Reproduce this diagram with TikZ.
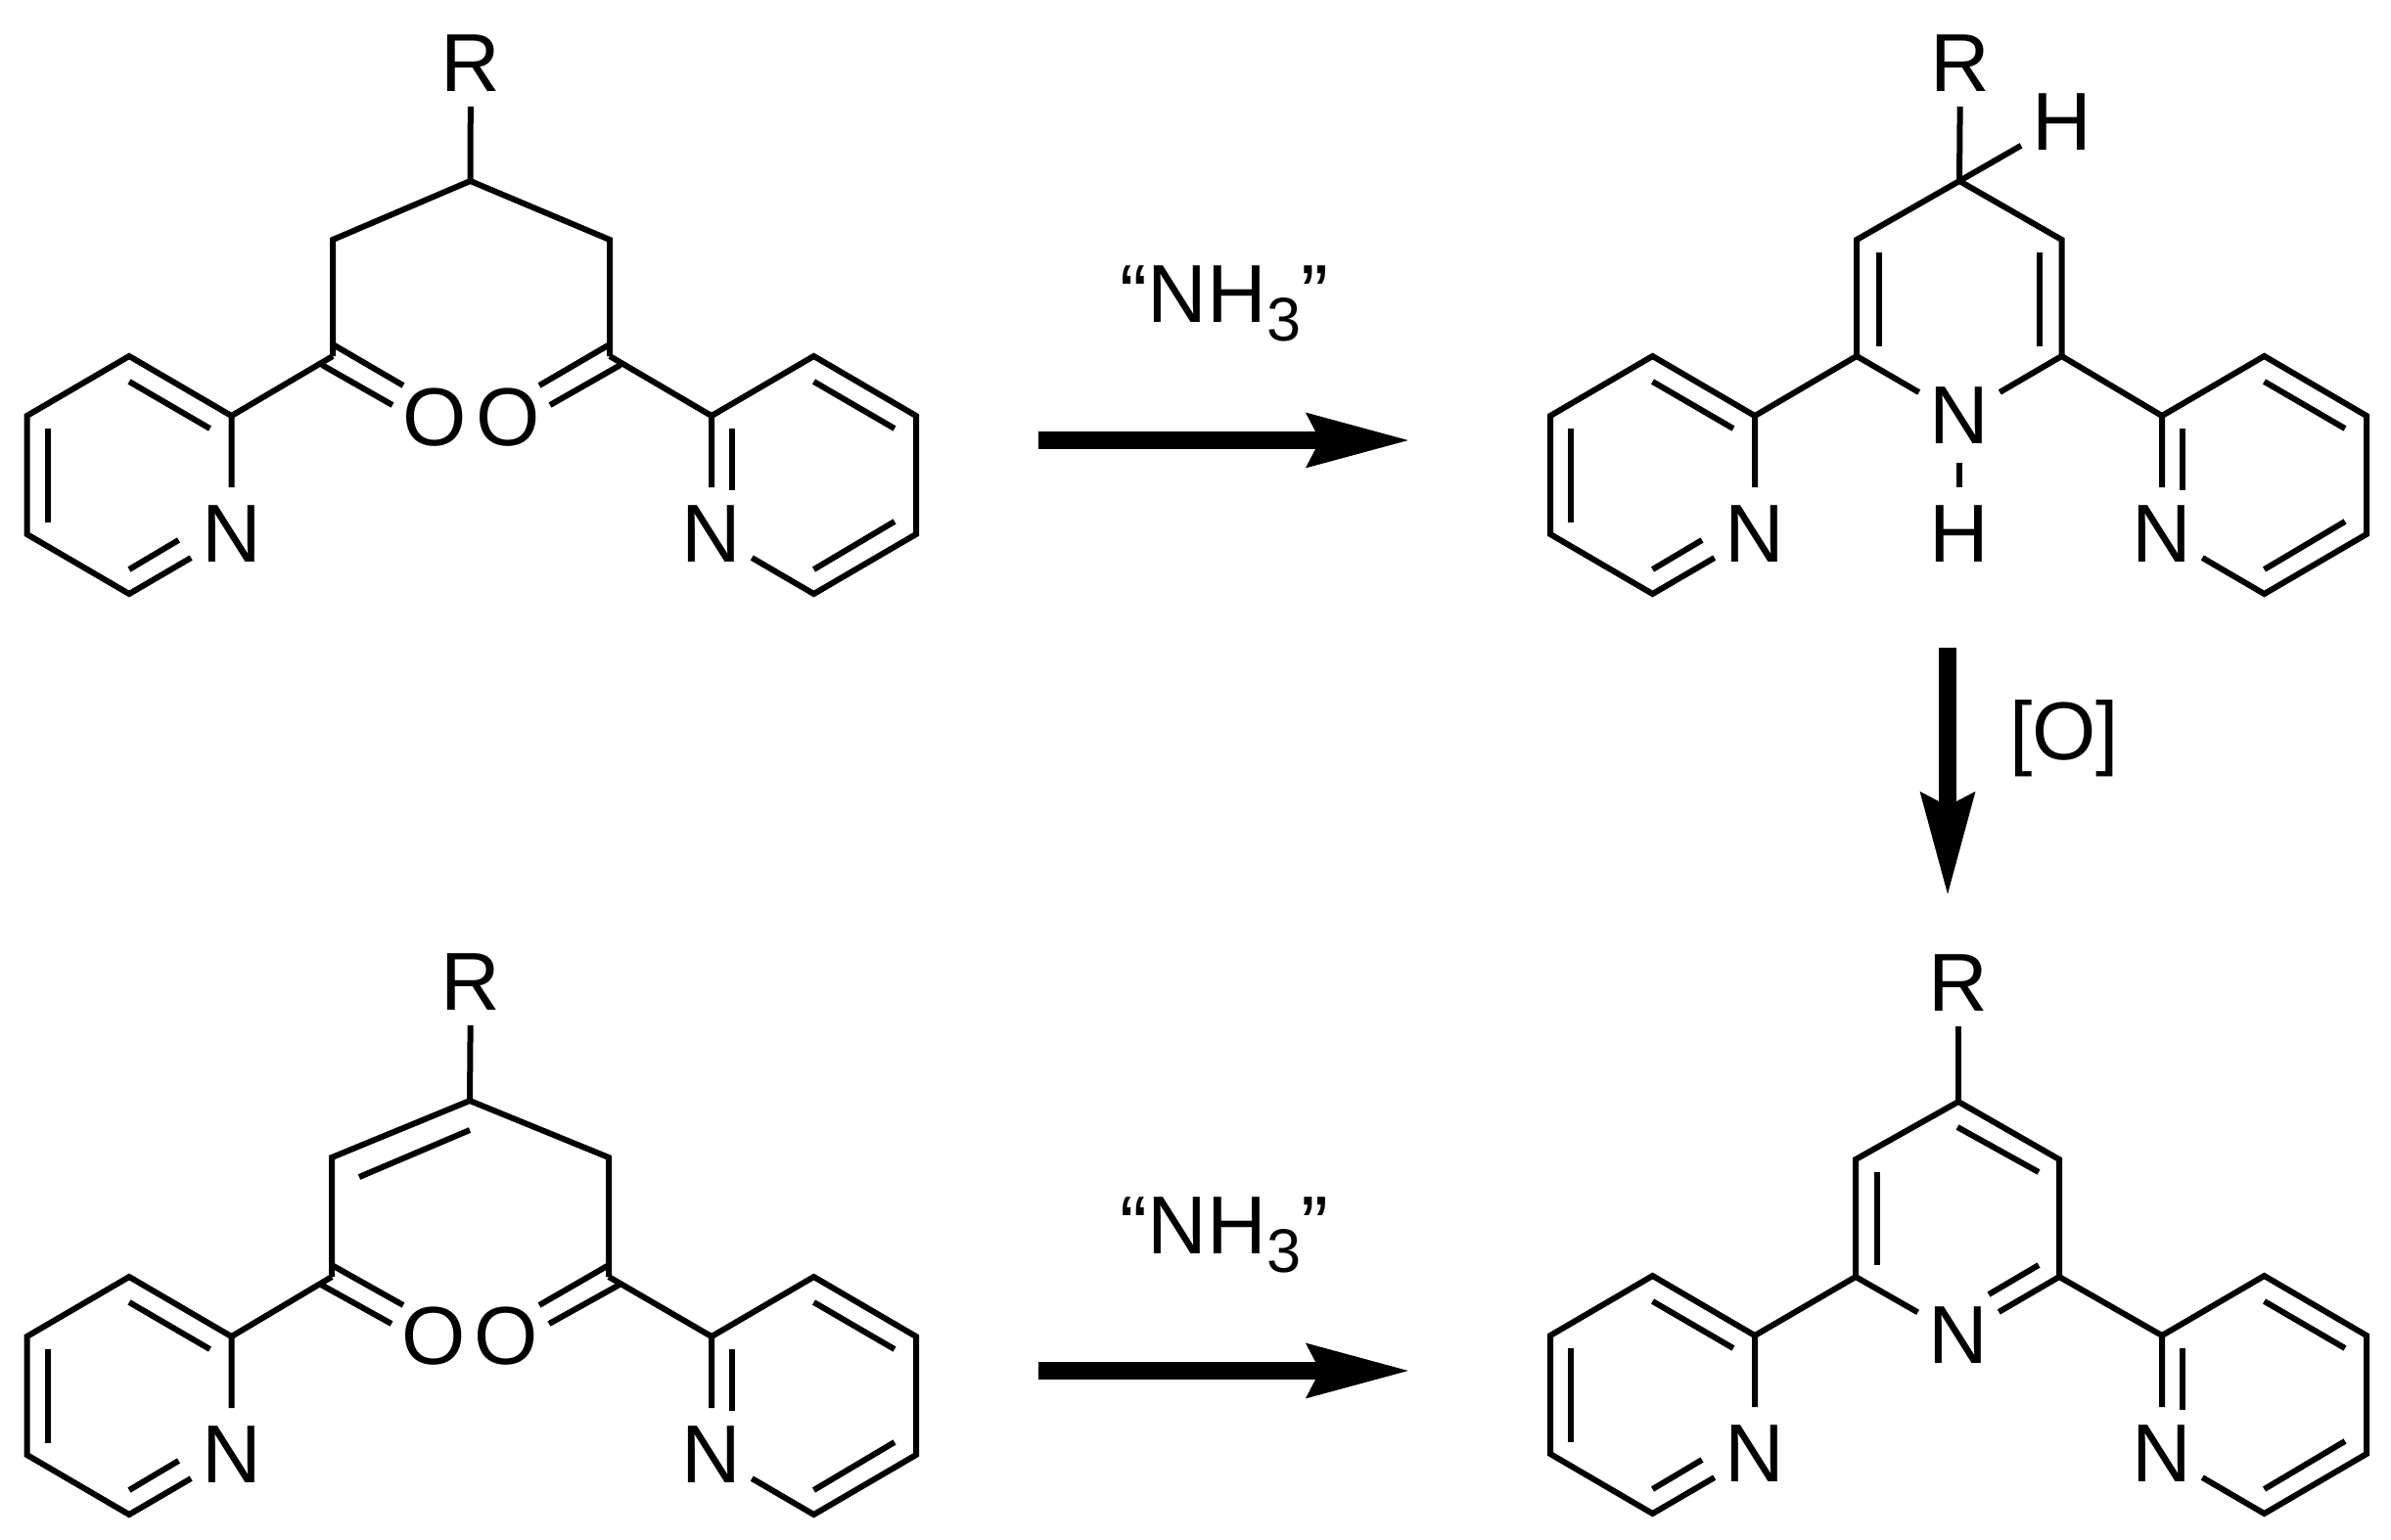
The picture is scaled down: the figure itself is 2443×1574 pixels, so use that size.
\documentclass[tikz,border=0pt]{standalone}
\usepackage{fontspec}
\setmainfont{Liberation Sans}
\usetikzlibrary{arrows.meta}

\tikzstyle{atom} = [circle, inner sep=0, minimum size=23.5pt, font=\fontsize{21}{21}\selectfont]
\tikzstyle{rgroup} = [atom, minimum size=21.5pt]
\tikzstyle{reagent} = [inner sep=0, anchor=base, font=\fontsize{21}{21}\selectfont]
\tikzstyle{bond} = [line width=1.5pt]
\tikzstyle{bigarrow} = [line width=4.5pt, -{Stealth[length=26pt, width=13.2pt, inset=3pt]}]

\newcommand{\nhthree}{“NH\raisebox{-4.75pt}{\fontsize{15.75}{16}\selectfont 3}”}

\tikzset{
	pyrleft/.pic={
		\coordinate (-c2) at (0,0);
		\coordinate (-c3) at (-104.5,-61);
		\coordinate (-c4) at (-209,0);
		\coordinate (-c5) at (-209,121);
		\coordinate (-c6) at (-104.5,182);
		\node[atom] (-n) at (0,121) {N};
		\coordinate (-ia) at (-104.5,-35);
		\coordinate (-ib) at (-22,13);
		\coordinate (-ic) at (-188,13);
		\coordinate (-id) at (-188,109);
		\coordinate (-ie) at (-104.5,157);
		\coordinate (-if) at (-54,127);
		\draw[bond] (-n) -- (-c2) -- (-c3) -- (-c4) -- (-c5) -- (-c6) -- (-n);
		\draw[bond] (-ia) -- (-ib);
		\draw[bond] (-ic) -- (-id);
		\draw[bond] (-ie) -- (-if);
	},
	pyrright/.pic={
		\coordinate (-c2) at (0,0);
		\coordinate (-c3) at (104.5,-61);
		\coordinate (-c4) at (209,0);
		\coordinate (-c5) at (209,121);
		\coordinate (-c6) at (104.5,182);
		\node[atom] (-n) at (0,121) {N};
		\coordinate (-ia) at (104.5,-35);
		\coordinate (-ib) at (187,13);
		\coordinate (-ic) at (187,108);
		\coordinate (-id) at (104.5,157);
		\coordinate (-ie) at (21,13);
		\coordinate (-if) at (21,76);
		\draw[bond] (-n) -- (-c2) -- (-c3) -- (-c4) -- (-c5) -- (-c6) -- (-n);
		\draw[bond] (-ia) -- (-ib);
		\draw[bond] (-ic) -- (-id);
		\draw[bond] (-ie) -- (-if);
	}
}

\begin{document}
\begin{tikzpicture}[x=0.25pt, y=-0.25pt]
\useasboundingbox (0,0) rectangle (2443,1574);

% Diketon
\node[rgroup] (ketoR) at (481,65) {R};
\coordinate (ketomid) at (480.5,185);
\coordinate (ketoleft) at (340,245);
\coordinate (ketoright) at (623,245);
\coordinate (ketocl) at (340,364);
\coordinate (ketocr) at (623,364);
\node[atom] (ketool) at (444,427) {O};
\node[atom] (ketoor) at (519,427) {O};
\coordinate (ketodla) at (340,352);
\coordinate (ketodlb) at (412,394);
\coordinate (ketodlc) at (329,373);
\coordinate (ketodld) at (401,414);
\coordinate (ketodra) at (623,352);
\coordinate (ketodrb) at (551,394);
\coordinate (ketodrc) at (634,373);
\coordinate (ketodrd) at (562,414);
\pic (ketopl) at (236.5,425) {pyrleft};
\pic (ketopr) at (727,425) {pyrright};
\draw[bond] (ketoR) -- (ketomid);
\draw[bond] (ketocl) -- (ketoleft) -- (ketomid) -- (ketoright) -- (ketocr);
\draw[bond] (ketopl-c2) -- (ketocl);
\draw[bond] (ketopr-c2) -- (ketocr);
\draw[bond] (ketodla) -- (ketodlb);
\draw[bond] (ketodlc) -- (ketodld);
\draw[bond] (ketodra) -- (ketodrb);
\draw[bond] (ketodrc) -- (ketodrd);

% Dihydropyridin
\node[rgroup] (dihydroR) at (2003,65) {R};
\node[atom] (dihydroH) at (2106.5,125) {H};
\coordinate (dihydromid) at (2002,185);
\coordinate (dihydroleft) at (1897,245);
\coordinate (dihydroright) at (2106.5,245);
\coordinate (dihydrocl) at (1897,364);
\coordinate (dihydrocr) at (2106.5,364);
\node[atom] (dihydroN) at (2002,425) {N};
\node[atom] (dihydroNH) at (2002,546) {H};
\coordinate (dihydrodla) at (1920,258);
\coordinate (dihydrodlb) at (1920,354);
\coordinate (dihydrodra) at (2084,258);
\coordinate (dihydrodrb) at (2084,354);
\pic (dihydropl) at (1793,425) {pyrleft};
\pic (dihydropr) at (2209,425) {pyrright};
\draw[bond] (dihydroR) -- (dihydromid);
\draw[bond] (dihydroH) -- (dihydromid);
\draw[bond] (dihydroN) -- (dihydrocl) -- (dihydroleft) -- (dihydromid) -- (dihydroright) -- (dihydrocr) -- (dihydroN);
\draw[bond] (dihydroN) -- (dihydroNH);
\draw[bond] (dihydropl-c2) -- (dihydrocl);
\draw[bond] (dihydropr-c2) -- (dihydrocr);
\draw[bond] (dihydrodla) -- (dihydrodlb);
\draw[bond] (dihydrodra) -- (dihydrodrb);

% Enon
\node[rgroup] (enonR) at (481,1004) {R};
\coordinate (enonmid) at (480,1125);
\coordinate (enonleft) at (339,1183);
\coordinate (enonright) at (622,1183);
\coordinate (enoncl) at (339,1305);
\coordinate (enoncr) at (622,1305);
\node[atom] (enonol) at (443,1366) {O};
\node[atom] (enonor) at (517,1366) {O};
\coordinate (enondca) at (367,1203);
\coordinate (enondcb) at (480,1155);
\coordinate (enondla) at (339,1293);
\coordinate (enondlb) at (412,1334);
\coordinate (enondlc) at (328,1313);
\coordinate (enondld) at (400,1353);
\coordinate (enondra) at (622,1293);
\coordinate (enondrb) at (551,1334);
\coordinate (enondrc) at (633,1313);
\coordinate (enondrd) at (561,1353);
\pic (enonpl) at (236.5,1366) {pyrleft};
\pic (enonpr) at (727,1366) {pyrright};
\draw[bond] (enonR) -- (enonmid);
\draw[bond] (enoncl) -- (enonleft) -- (enonmid) -- (enonright) -- (enoncr);
\draw[bond] (enonpl-c2) -- (enoncl);
\draw[bond] (enonpr-c2) -- (enoncr);
\draw[bond] (enondca) -- (enondcb);
\draw[bond] (enondla) -- (enondlb);
\draw[bond] (enondlc) -- (enondld);
\draw[bond] (enondra) -- (enondrb);
\draw[bond] (enondrc) -- (enondrd);

% Terpyridin
\node[rgroup] (terpyR) at (2001,1005) {R};
\coordinate (terpymid) at (2001,1126);
\coordinate (terpyleft) at (1896,1185);
\coordinate (terpyright) at (2104,1185);
\coordinate (terpycl) at (1896,1305);
\coordinate (terpycr) at (2104,1305);
\node[atom] (terpyN) at (2001,1365) {N};
\coordinate (terpydla) at (1917.5,1198);
\coordinate (terpydlb) at (1917.5,1293);
\coordinate (terpydta) at (2000,1152);
\coordinate (terpydtb) at (2083,1198);
\coordinate (terpydra) at (2032,1323);
\coordinate (terpydrb) at (2083,1293);
\pic (terpypl) at (1793,1365) {pyrleft};
\pic (terpypr) at (2209,1365) {pyrright};
\draw[bond] (terpyR) -- (terpymid);
\draw[bond] (terpyN) -- (terpycl) -- (terpyleft) -- (terpymid) -- (terpyright) -- (terpycr) -- (terpyN);
\draw[bond] (terpypl-c2) -- (terpycl);
\draw[bond] (terpypr-c2) -- (terpycr);
\draw[bond] (terpydla) -- (terpydlb);
\draw[bond] (terpydta) -- (terpydtb);
\draw[bond] (terpydra) -- (terpydrb);

% Pfeile
\coordinate (topstart) at (1061,450);
\coordinate (topend) at (1441,450);
\coordinate (oxstart) at (1990,662);
\coordinate (oxend) at (1990,916);
\coordinate (botstart) at (1061,1401);
\coordinate (botend) at (1441,1401);
\draw[bigarrow] (topstart) -- (topend);
\draw[bigarrow] (oxstart) -- (oxend);
\draw[bigarrow] (botstart) -- (botend);

\node[reagent] (topreagent) at (1251,329) {\nhthree};
\node[reagent] (oxreagent) at (2109,776) {[O]};
\node[reagent] (botreagent) at (1251,1281) {\nhthree};

\end{tikzpicture}
\end{document}
